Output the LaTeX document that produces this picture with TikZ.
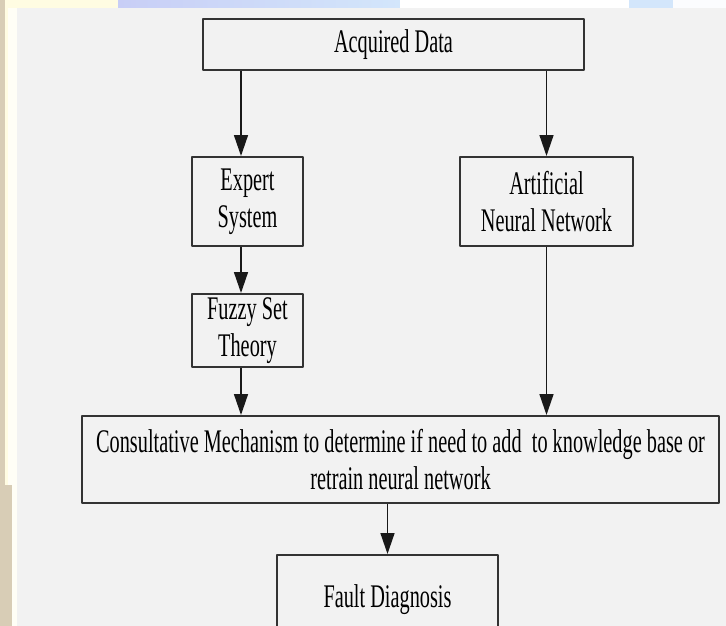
\documentclass[tikz,border=0pt]{standalone}
\usepackage{fontspec}
\setmainfont{Liberation Serif}[FakeStretch=0.615]
\usetikzlibrary{arrows.meta}
\definecolor{panel}{HTML}{F2F2F2}
\definecolor{edge}{HTML}{333333}
\definecolor{sand}{HTML}{D8CDB6}
\definecolor{cream}{HTML}{FFFCE2}
\definecolor{skyA}{HTML}{C8CEF6}
\definecolor{skyB}{HTML}{D3E6FB}
\begin{document}
\begin{tikzpicture}[x=1pt,y=-1pt,font=\fontsize{33}{37}\selectfont,line join=round,>={Triangle[length=21pt,width=14pt]},
	box/.style={draw=edge,line width=2pt,align=center,inner sep=0pt},
	arr/.style={->,line width=1.5pt,draw=black!90}]
				% slide background
				\fill[panel] (0,0) rectangle (726,626);
				\fill[cream] (0,0) rectangle (726,8);
				\shade[left color=skyA,right color=skyB] (118,0) rectangle (400,8);
				\fill[white] (400,0) rectangle (629,8);
				\fill[skyB] (629,0) rectangle (673,8);
				\fill[white!90!skyB] (673,0) rectangle (726,8);
				\fill[cream] (0,8) rectangle (17,626);
				\fill[white!70!cream] (8,8) rectangle (17,626);
				\fill[sand] (0,0) rectangle (5,626);
				\fill[sand] (0,485) rectangle (12,626);
				
				\begin{scope}
				\clip (0,0) rectangle (726,626);
				\node[box,minimum width=381pt,minimum height=51pt] (data) at (393.5,44.5) {Acquired Data};
				\node[box,minimum width=111pt,minimum height=89pt] (expert) at (247.5,201.5) {Expert\\System};
				\node[box,minimum width=173pt,minimum height=89pt] (ann) at (546.5,201.5) {Artificial\\Neural Network};
				\node[box,minimum width=111pt,minimum height=73pt] (fuzzy) at (247.5,330.5) {Fuzzy Set\\Theory};
				\node[box,minimum width=637pt,minimum height=87pt] (consult) at (400.5,459.5) {Consultative Mechanism to determine if need to add\ \ to knowledge base or\\retrain neural network};
				\node[box,minimum width=221pt,minimum height=90pt] (fault) at (387.5,600) {Fault Diagnosis};
				\end{scope}
				
				\coordinate (lcol) at (241,0);
				\draw[arr] (data.south -| lcol) -- (expert.north -| lcol);
				\draw[arr] (data.south -| ann) -- (ann.north);
				\draw[arr] (expert.south -| lcol) -- (fuzzy.north -| lcol);
				\draw[arr] (fuzzy.south -| lcol) -- (consult.north -| lcol);
				\draw[arr] (ann.south) -- (consult.north -| ann);
				\draw[arr] (consult.south -| fault) -- (fault.north);
				
				\useasboundingbox (0,0) rectangle (726,626);
			\end{tikzpicture}
\end{document}
